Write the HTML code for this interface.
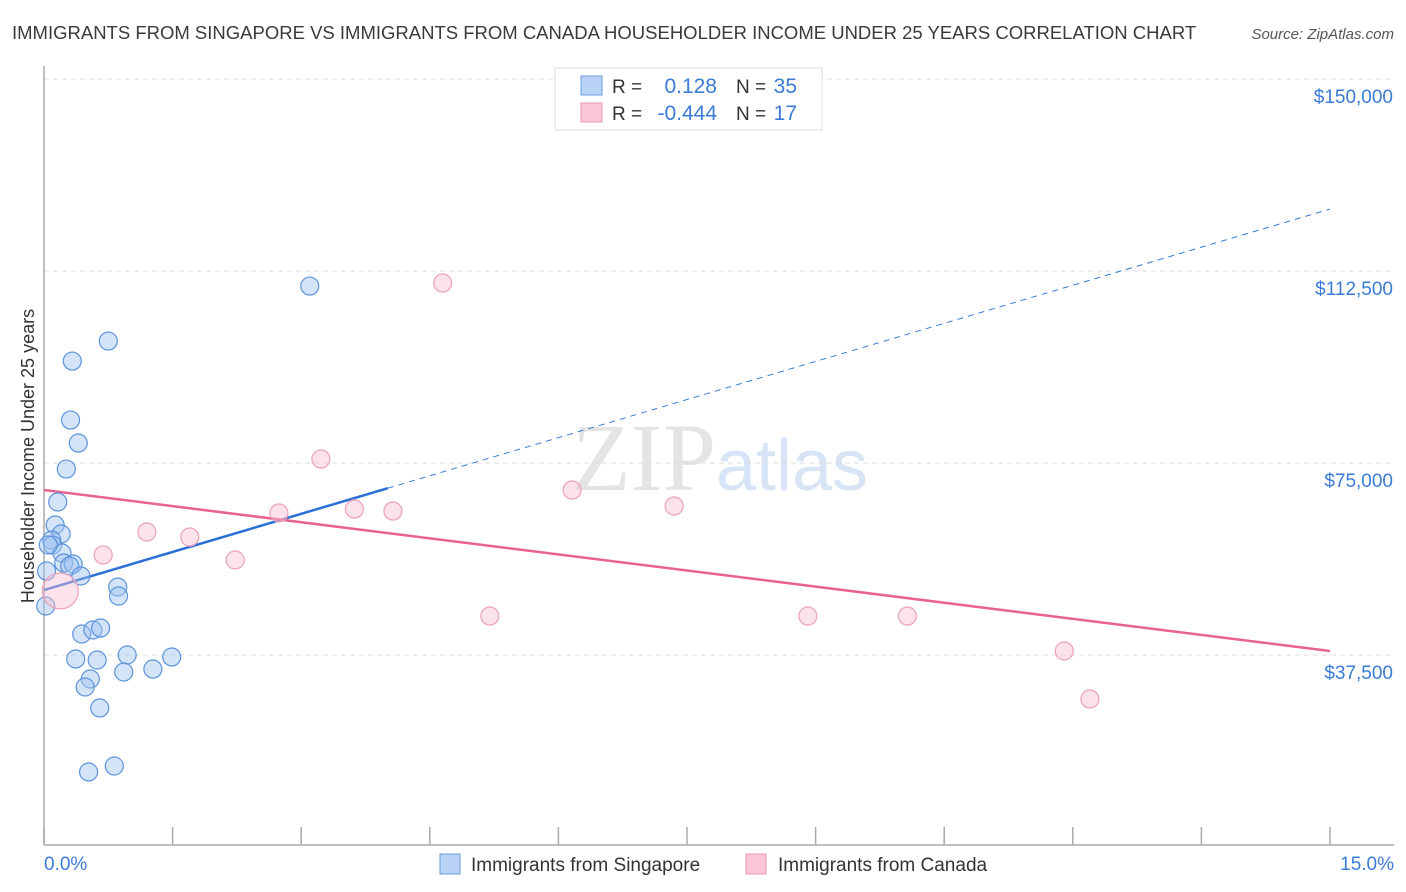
<!DOCTYPE html>
<html><head><meta charset="utf-8"><style>
body{margin:0;background:#fff;font-family:"Liberation Sans",sans-serif;}
svg{display:block}
</style></head><body>
<svg id="chart" width="1406" height="892" xmlns="http://www.w3.org/2000/svg" font-family="Liberation Sans, sans-serif">
<text x="12" y="39" font-size="18.5" fill="#3a3a3a">IMMIGRANTS FROM SINGAPORE VS IMMIGRANTS FROM CANADA HOUSEHOLDER INCOME UNDER 25 YEARS CORRELATION CHART</text>
<text x="1394" y="39" font-size="15" fill="#555" text-anchor="end" font-style="italic">Source: ZipAtlas.com</text>
<text x="720" y="490" font-size="96" text-anchor="middle" fill="#e4e4e4" font-family="Liberation Serif, serif">ZIP<tspan fill="#d6e4f5" font-family="Liberation Sans, sans-serif" font-size="72">atlas</tspan></text>
<text transform="translate(34,456) rotate(-90)" font-size="18" fill="#333" text-anchor="middle">Householder Income Under 25 years</text>
<g id="grid"></g><g id="axes"></g><g id="lines"></g><g id="points"></g>
<g>
<rect x="555" y="68" width="267" height="62" fill="#fff" stroke="#ddd"/>
<rect x="581" y="76" width="21" height="19" fill="#b8d3f5" stroke="#6e9fe0"/>
<rect x="581" y="103" width="21" height="19" fill="#f9c6d6" stroke="#ec9ab4"/>
<text x="612" y="93" font-size="19" fill="#333">R =</text>
<text x="717" y="93" font-size="21" fill="#3a7bd5" text-anchor="end">0.128</text>
<text x="736" y="93" font-size="19" fill="#333">N =</text>
<text x="797" y="93" font-size="21" fill="#3a7bd5" text-anchor="end">35</text>
<text x="612" y="120" font-size="19" fill="#333">R =</text>
<text x="717" y="120" font-size="21" fill="#3a7bd5" text-anchor="end">-0.444</text>
<text x="736" y="120" font-size="19" fill="#333">N =</text>
<text x="797" y="120" font-size="21" fill="#3a7bd5" text-anchor="end">17</text>
</g>
<g>
<rect x="440" y="854" width="20" height="20" fill="#b8d3f5" stroke="#6e9fe0"/>
<text x="471" y="871" font-size="19" fill="#333">Immigrants from Singapore</text>
<rect x="746" y="854" width="20" height="20" fill="#f9c6d6" stroke="#ec9ab4"/>
<text x="778" y="871" font-size="19" fill="#333">Immigrants from Canada</text>
</g>
</svg>
<script>
const blueX=[3.10,0.75,0.33,0.31,0.40,0.26,0.16,0.13,0.20,0.09,0.10,0.21,0.23,0.34,0.30,0.43,0.03,0.02,0.86,0.87,0.44,0.57,0.66,0.37,0.62,0.97,0.93,1.27,1.49,0.54,0.48,0.65,0.52,0.82,0.05];
const blueY=[109560,98820,94910,83390,78900,73820,67380,62890,61130,59960,58980,57420,55470,55270,54880,52930,53900,47070,50780,49020,41600,42380,42770,36720,36520,37500,34180,34760,37110,32810,31250,27150,14650,15820,59000];
const pinkX=[4.65,3.23,6.16,7.35,3.62,4.07,2.74,1.20,1.70,0.69,2.23,5.20,8.91,10.07,11.90,12.20,0.19];
const pinkY=[110150,75780,69720,66600,66010,65620,65230,61520,60540,57030,56050,45110,45110,45110,38280,28900,50000];
const pinkR=[9,9,9,9,9,9,9,9,9,9,9,9,9,9,9,9,18];
const yTicks=[37500,75000,112500,150000];
const yTickLabels=["$37,500","$75,000","$112,500","$150,000"];
const xTicks=[0,1.5,3,4.5,6,7.5,9,10.5,12,13.5,15];
const blueTrend=[50190,124600]; // at x=0 and x=15
const blueSolidEnd=4.01;
const pinkTrend=[69720,38280];

const NS="http://www.w3.org/2000/svg";
const X=v=>44+v*(1330-44)/15;
const Y=v=>847-v*192/37500;
function mk(tag,attrs,parent){const e=document.createElementNS(NS,tag);for(const k in attrs)e.setAttribute(k,attrs[k]);document.getElementById(parent).appendChild(e);return e;}

yTicks.forEach((t,i)=>{
  const l=mk('line',{x1:44,x2:1394,y1:Y(t),y2:Y(t),stroke:'#ddd','stroke-dasharray':'5,4'},'grid');
  
  
  const tx=mk('text',{x:1393,y:Y(t)+24,'font-size':19,fill:'#3a7bd5','text-anchor':'end'},'axes');
  tx.textContent=yTickLabels[i];
  
  
});
const ax=mk('line',{x1:44,x2:44,y1:66,y2:845,stroke:'#aaa','stroke-width':1.5},'axes');


const bx=mk('line',{x1:44,x2:1394,y1:845,y2:845,stroke:'#aaa','stroke-width':1.5},'axes');


xTicks.forEach(t=>{
  const l=mk('line',{x1:X(t),x2:X(t),y1:827,y2:845,stroke:'#aaa','stroke-width':1.5},'axes');
  
  
});
const xl0=mk('text',{x:44,y:870,'font-size':19,fill:'#3a7bd5'},'axes');xl0.textContent='0.0%';


const xl1=mk('text',{x:1394,y:870,'font-size':19,fill:'#3a7bd5','text-anchor':'end'},'axes');xl1.textContent='15.0%';



blueX.forEach((v,i)=>{
  const c=mk('circle',{cx:X(v),cy:Y(blueY[i]),r:9,fill:'rgba(160,196,240,0.45)',stroke:'#5b93dd','stroke-width':1.2},'points');
  
  
});
pinkX.forEach((v,i)=>{
  const c=mk('circle',{cx:X(v),cy:Y(pinkY[i]),r:pinkR[i],fill:'rgba(248,190,208,0.45)',stroke:'#eda0b9','stroke-width':1.2},'points');
  
  
});
const bT=x=>blueTrend[0]+(blueTrend[1]-blueTrend[0])*x/15;
const bd=mk('line',{x1:X(blueSolidEnd),y1:Y(bT(blueSolidEnd)),x2:X(15),y2:Y(blueTrend[1]),stroke:'#3a7bd5','stroke-width':1,'stroke-dasharray':'6,5'},'lines');


const bs=mk('line',{x1:X(0),y1:Y(blueTrend[0]),x2:X(blueSolidEnd),y2:Y(bT(blueSolidEnd)),stroke:'#2a6fd6','stroke-width':2.5},'lines');


const pl=mk('line',{x1:X(0),y1:Y(pinkTrend[0]),x2:X(15),y2:Y(pinkTrend[1]),stroke:'#e8638f','stroke-width':2.5},'lines');


</script>
</body></html>
